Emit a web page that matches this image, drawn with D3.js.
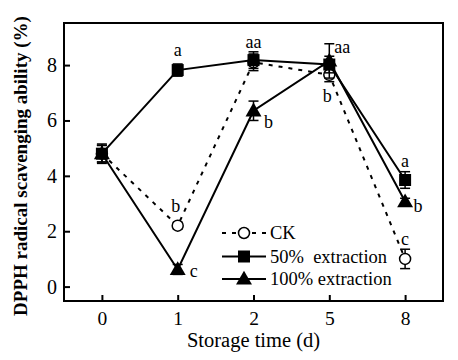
<!DOCTYPE html>
<html><head><meta charset="utf-8">
<script src="https://cdn.jsdelivr.net/npm/d3@7"></script>
<style>body{margin:0;background:#fff}svg{display:block}text{font-family:"Liberation Serif","Times New Roman",serif}</style>
</head><body>
<svg id="c" width="458" height="360" font-family="Liberation Serif, Times New Roman, serif"></svg>
<script>
const categories = ["0","1","2","5","8"];
const yTicks = [0,2,4,6,8];
const seriesNames = ["CK","50%  extraction","100% extraction"];
const ckValues   = [4.8, 2.2, 8.1, 7.65, 1.0];
const ckErrors   = [0.3, 0.12, 0.3, 0.25, 0.35];
const ckLetters  = ["", "b", "", "b", "c"];
const e50Values  = [4.8, 7.82, 8.18, 8.02, 3.85];
const e50Errors  = [0.35, 0.22, 0.3, 0.3, 0.3];
const e50Letters = ["", "a", "aa", "", "a"];
const e100Values = [4.8, 0.62, 6.35, 8.15, 3.07];
const e100Errors = [0.3, 0.18, 0.35, 0.62, 0.12];
const e100Letters= ["", "c", "b", "aa", "b"];

const svg = d3.select("#c");
const L=64, R=443, T=23, B=301;
const x = d3.scalePoint().domain(categories).range([L,R]).padding(0.5);
const y = d3.scaleLinear().domain([-0.52,9.52]).range([B,T]);

const gx = svg.append("g").attr("transform",`translate(0,${B})`)
  .call(d3.axisBottom(x).tickSizeInner(-6).tickSizeOuter(0).tickPadding(10));
gx.attr("font-family",null).attr("font-size",null);
gx.select(".domain").remove();
gx.selectAll("line").attr("stroke","#000").attr("stroke-width",2);
gx.selectAll("text").attr("font-size",19.5).attr("fill","#000").attr("dy","0.71em");
const gy = svg.append("g").attr("transform",`translate(${L},0)`)
  .call(d3.axisLeft(y).tickValues(yTicks).tickSizeInner(-6).tickSizeOuter(0).tickPadding(7));
gy.attr("font-family",null).attr("font-size",null);
gy.select(".domain").remove();
gy.selectAll("line").attr("stroke","#000").attr("stroke-width",2);
gy.selectAll("text").attr("font-size",20).attr("fill","#000");

svg.append("rect").attr("x",L).attr("y",T).attr("width",R-L).attr("height",B-T)
  .attr("fill","none").attr("stroke","#000").attr("stroke-width",2);

svg.append("text").attr("x",x("2")).attr("y",347).attr("text-anchor","middle")
  .attr("font-size",20.5).text("Storage time (d)");
svg.append("text").attr("transform","translate(27,166) rotate(-90)").attr("text-anchor","middle")
  .attr("font-size",19).attr("font-weight","bold").text("DPPH radical scavenging ability (%)");

const series = [
  {name:seriesNames[0], v:ckValues, e:ckErrors, l:ckLetters, dash:"4,6", shape:"circle"},
  {name:seriesNames[1], v:e50Values, e:e50Errors, l:e50Letters, dash:null, shape:"square"},
  {name:seriesNames[2], v:e100Values, e:e100Errors, l:e100Letters, dash:null, shape:"triangle"}
];
const line = d3.line().x((d,i)=>x(categories[i])).y(d=>y(d));

function marker(g, shape, cx, cy){
  if(shape==="circle") g.append("circle").attr("cx",cx).attr("cy",cy).attr("r",5.5)
      .attr("fill","#fff").attr("stroke","#000").attr("stroke-width",1.5);
  else if(shape==="square") g.append("rect").attr("x",cx-6).attr("y",cy-6).attr("width",12).attr("height",12).attr("fill","#000");
  else g.append("path").attr("d",d3.symbol(d3.symbolTriangle,110)()).attr("transform",`translate(${cx},${cy+1})`).attr("fill","#000");
}

series.forEach(s=>{
  svg.append("path").datum(s.v).attr("d",line).attr("fill","none").attr("stroke","#000")
    .attr("stroke-width",2).attr("stroke-dasharray",s.dash);
});
series.forEach(s=>{
  const g = svg.append("g");
  s.v.forEach((v,i)=>{
    const cx=x(categories[i]);
    g.append("line").attr("x1",cx).attr("x2",cx).attr("y1",y(v-s.e[i])).attr("y2",y(v+s.e[i])).attr("stroke","#000").attr("stroke-width",1.5);
    [v-s.e[i], v+s.e[i]].forEach(t=>g.append("line").attr("x1",cx-5).attr("x2",cx+5).attr("y1",y(t)).attr("y2",y(t)).attr("stroke","#000").attr("stroke-width",1.5));
    marker(g,s.shape,cx,y(v));
  });
});

// significance letters (offsets from the point)
const place = [
  [null,[-2,-14],null,[-2,27],[0,-14]],
  [null,[0,-14],[0,-12],null,[0,-13]],
  [null,[16,8],[15,17],[13,-8],[13,10]]
];
series.forEach((s,si)=>{
  s.l.forEach((t,i)=>{
    if(!t) return;
    const o=place[si][i];
    svg.append("text").attr("x",x(categories[i])+o[0]).attr("y",y(s.v[i])+o[1])
      .attr("text-anchor","middle").attr("font-size",18).text(t);
  });
});

// legend
const lx0=222, lx1=266, ly=[233,256.5,279];
series.forEach((s,i)=>{
  svg.append("line").attr("x1",lx0).attr("x2",lx1).attr("y1",ly[i]).attr("y2",ly[i])
    .attr("stroke","#000").attr("stroke-width",2).attr("stroke-dasharray",s.dash);
  marker(svg,s.shape,(lx0+lx1)/2,ly[i]);
  svg.append("text").attr("x",270).attr("y",ly[i]).attr("dy","0.35em").attr("font-size",18.5)
    .style("white-space","pre").text(s.name);
});
</script>
</body></html>
